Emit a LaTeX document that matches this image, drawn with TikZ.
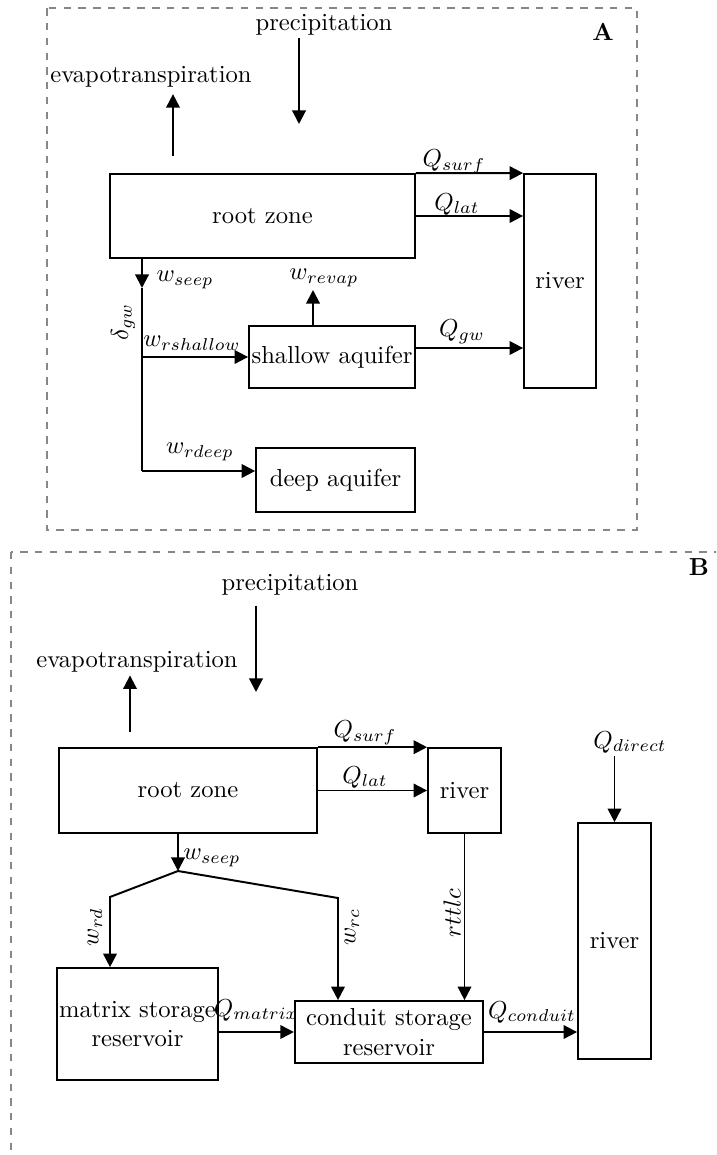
\documentclass[tikz,border=0pt]{standalone}
\usepackage{xcolor}
\usepackage{amsmath}
\usepackage{tikz}
\usetikzlibrary{arrows.meta, positioning, calc}
\definecolor{framegray}{RGB}{135,135,135}
\tikzset{
  store/.style={rectangle, draw=black, line width=0.7pt, inner sep=1pt, align=center},
  arrow/.style={-{Triangle[length=5.5pt,width=5.5pt]}, line width=0.8pt},
  line/.style={line width=0.8pt},
  frame/.style={draw=framegray, line width=0.8pt, dashed},
  lbl/.style={inner sep=1pt},
  vlbl/.style={inner sep=1pt, rotate=90}
}

\begin{document}
\begin{tikzpicture}[x=0.4064pt, y=-0.4064pt]
  \clip (0,0) rectangle (716,1155);

  % panel A
  \draw [frame] (46.6,8.3) rectangle (637,530);
  \node [lbl, font=\bfseries] (tagA) at (603,32) {A};
  \node [lbl] (precipA) at (324,25) {precipitation};
  \node [lbl] (evapA) at (151,77) {evapotranspiration};
  \node [store, minimum width=124pt, minimum height=34.1pt] (rootA) at (262.5,216) {root zone};
  \node [store, minimum width=29.3pt, minimum height=87pt] (riverA) at (560,281) {river};
  \node [store, minimum width=67.5pt, minimum height=25.2pt] (shallowA) at (332,357) {shallow aquifer};
  \node [store, minimum width=64.6pt, minimum height=26pt] (deepA) at (335.5,480) {deep aquifer};

  \coordinate (prA) at (299,124);
  \coordinate (etA) at (173,156);
  \coordinate (seepA) at (142,288);
  \coordinate (rdeepA) at (142,471);
  \coordinate (revapA) at (313,290);

  \draw [arrow] (prA |- precipA.south) -- (prA);
  \draw [arrow, shorten >=1.5pt] (etA) -- (etA |- evapA.south);
  \draw [arrow] (rootA.north east) -- (riverA.north west);
  \draw [arrow] (rootA.east) -- (rootA.east -| riverA.west);
  \draw [arrow] (seepA |- rootA.south) -- (seepA);
  \draw [line] (seepA) -- (rdeepA);
  \draw [arrow] (shallowA.west -| seepA) -- (shallowA.west);
  \draw [arrow] (rdeepA) -- (rdeepA -| deepA.west);
  \draw [arrow] (revapA |- shallowA.north) -- (revapA);
  \draw [arrow] ($(shallowA.east)+(0,-9)$) -- ($(shallowA.east -| riverA.west)+(0,-9)$);

  \node [lbl] (qsurfA) at (454,162) {$Q_{surf}$};
  \node [lbl] (qlatA) at (457,204) {$Q_{lat}$};
  \node [lbl] (wseepA) at (185,280) {$w_{seep}$};
  \node [vlbl] (dgwA) at (123,322) {$\delta_{gw}$};
  \node [lbl] (wshA) at (192,343) {$w_{rshallow}$};
  \node [lbl] (wrevA) at (324,278) {$w_{revap}$};
  \node [lbl] (qgwA) at (462,332) {$Q_{gw}$};
  \node [lbl] (wdeepA) at (200,452) {$w_{rdeep}$};

  % panel B
  \draw [frame] (11.4,552) rectangle (740,1175);
  \node [lbl, font=\bfseries] (tagB) at (699,567) {B};
  \node [lbl] (precipB) at (290,585) {precipitation};
  \node [lbl] (evapB) at (137,662) {evapotranspiration};
  \node [store, minimum width=104.9pt, minimum height=34.5pt] (rootB) at (188,790.5) {root zone};
  \node [store, minimum width=29.7pt, minimum height=34.5pt] (riverB) at (464.5,790.5) {river};
  \node [store, minimum width=29.7pt, minimum height=95.9pt] (outlet) at (614.5,941) {river};
  \node [store, minimum width=63.8pt, minimum height=45.5pt] (matrix) at (137.5,1024) {matrix storage\\reservoir};
  \node [store, minimum width=76.6pt, minimum height=25.2pt] (conduit) at (389,1032) {conduit storage\\reservoir};

  \coordinate (prB) at (256,692);
  \coordinate (etB) at (130,732);
  \coordinate (seepB) at (178,871);
  \coordinate (rdB) at (110,897);
  \coordinate (rcB) at (338,898);

  \draw [arrow] ([yshift=-3pt]prB |- precipB.south) -- (prB);
  \draw [arrow] (etB) -- (etB |- evapB.south);
  \draw [arrow] (rootB.north east) -- (riverB.north west);
  \draw [arrow] (rootB.east) -- (rootB.east -| riverB.west);
  \draw [arrow] (seepB |- rootB.south) -- (seepB);
  \draw [arrow] (seepB) -- (rdB) -- (rdB |- matrix.north);
  \draw [arrow] (seepB) -- (rcB) -- (rcB |- conduit.north);
  \draw [arrow] (riverB.south) -- (riverB.south |- conduit.north);
  \draw [arrow] (conduit.west -| matrix.east) -- (conduit.west);
  \draw [arrow] (conduit.east) -- (conduit.east -| outlet.west);

  \node [lbl] (qsurfB) at (365,733) {$Q_{surf}$};
  \node [lbl] (qlatB) at (365,777) {$Q_{lat}$};
  \node [lbl] (qdirB) at (630,742) {$Q_{direct}$};
  \draw [arrow] (outlet.north |- qdirB.south) -- (outlet.north);
  \node [lbl] (wseepB) at (212,858) {$w_{seep}$};
  \node [vlbl] (wrdB) at (95,927) {$w_{rd}$};
  \node [vlbl] (wrcB) at (352,927) {$w_{rc}$};
  \node [vlbl] (rttlcB) at (452,913) {$rttlc$};
  \node [lbl] (qmatB) at (256,1010) {$Q_{matrix}$};
  \node [lbl] (qconB) at (532,1012) {$Q_{conduit}$};
\end{tikzpicture}
\end{document}
